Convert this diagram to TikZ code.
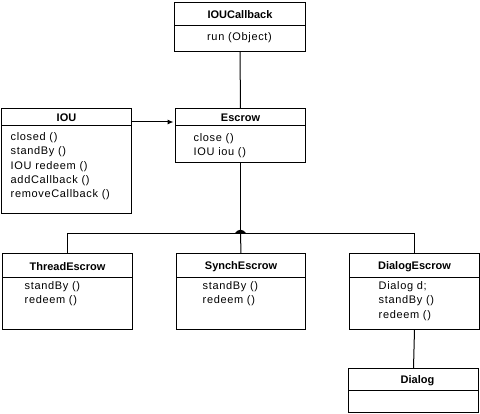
\documentclass[tikz,border=0pt]{standalone}
\usepackage{fontspec}
\setmainfont{Liberation Sans}
\newfontfamily\methfont[LetterSpace=6]{Liberation Sans}
\usetikzlibrary{arrows.meta}
\tikzset{
  box/.style={draw, line width=1pt, anchor=north west, inner sep=0pt, outer sep=0pt},
  head/.style={font=\fontsize{11}{13}\selectfont\bfseries, inner sep=0pt},
  meth/.style={font=\fontsize{11}{14.3}\methfont, inner sep=0pt, anchor=north west, align=left},
  conn/.style={line width=1pt},
}
\begin{document}
\begin{tikzpicture}[x=1pt,y=-1pt]
\useasboundingbox (-0.5,-0.5) rectangle (479.5,413.5);
% IOUCallback
\node[box, minimum width=131pt, minimum height=23pt] (cbh) at (174,2) {};
\node[box, minimum width=131pt, minimum height=26pt] (cbb) at (174,25) {};
\node[head] (cbt) at ([yshift=-1pt]cbh.center) {IOUCallback};
\node[font=\fontsize{11}{14}\methfont, inner sep=0pt] (cbm) at (239,37) {run (Object)};
% Escrow
\node[box, minimum width=130pt, minimum height=17pt] (esh) at (175,108) {};
\node[box, minimum width=130pt, minimum height=37pt] (esb) at (175,125) {};
\node[head] (est) at ([yshift=-1pt]esh.center) {Escrow};
\node[meth] (esm) at (193,133) {close ()\\IOU iou ()};
% IOU
\node[box, minimum width=130pt, minimum height=17pt] (iouh) at (1,108) {};
\node[box, minimum width=130pt, minimum height=88pt] (ioub) at (1,125) {};
\node[head] (iout) at ([yshift=-1pt]iouh.center) {IOU};
\node[meth] (ioum) at (10,132) {closed ()\\standBy ()\\IOU redeem ()\\addCallback ()\\removeCallback ()};
% ThreadEscrow
\node[box, minimum width=130pt, minimum height=24pt] (teh) at (2,253) {};
\node[box, minimum width=130pt, minimum height=52pt] (teb) at (2,277) {};
\node[head] (tet) at ([yshift=-1pt]teh.center) {ThreadEscrow};
\node[meth] (tem) at (24,281) {standBy ()\\redeem ()};
% SynchEscrow
\node[box, minimum width=129pt, minimum height=24pt] (seh) at (176,253) {};
\node[box, minimum width=129pt, minimum height=52pt] (seb) at (176,277) {};
\node[head] (set) at ([yshift=-1pt]seh.center) {SynchEscrow};
\node[meth] (sem) at (202,281) {standBy ()\\redeem ()};
% DialogEscrow
\node[box, minimum width=130pt, minimum height=24pt] (deh) at (349,253) {};
\node[box, minimum width=130pt, minimum height=52pt] (deb) at (349,277) {};
\node[head] (det) at ([yshift=-1pt]deh.center) {DialogEscrow};
\node[meth] (dem) at (378,281) {Dialog d;\\standBy ()\\redeem ()};
% Dialog
\node[box, minimum width=130pt, minimum height=22pt] (dlh) at (348,368) {};
\node[box, minimum width=130pt, minimum height=22pt] (dlb) at (348,390) {};
\node[head] (dlt) at ([xshift=4pt,yshift=-1pt]dlh.center) {Dialog};
% connectors
\draw[conn] (cbb.south) -- (esh.north);
\draw[conn, -{Latex[length=6pt,width=5pt]}] ([yshift=-5pt]iouh.east) -- ([yshift=-5pt,xshift=-2pt]esh.west);
\coordinate (jn) at (240,233);
\draw[conn] (esb.south) -- (jn);
\draw[conn] (teh.north) |- (jn) -| (deh.north);
\draw[conn] (jn) -- (seh.north);
\fill ([xshift=-6pt]jn) .. controls ([xshift=-2pt,yshift=5pt]jn) and ([xshift=2pt,yshift=5pt]jn) .. ([xshift=6pt]jn) -- cycle;
\draw[conn] (deb.south) -- (dlh.north);
\end{tikzpicture}
\end{document}
